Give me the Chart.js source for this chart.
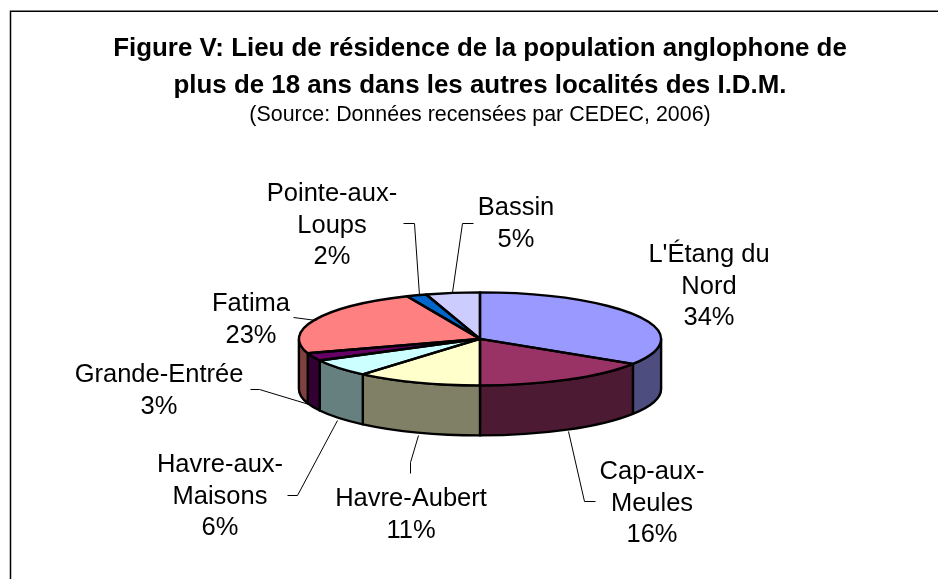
<!DOCTYPE html>
<html><head><meta charset="utf-8">
<style>html,body{margin:0;padding:0;background:#fff}#w{width:938px;height:579px;position:relative}canvas{display:block}</style>
<script src="https://cdn.jsdelivr.net/npm/chart.js@4"></script>
</head><body><div id="w"><canvas id="c" width="938" height="579"></canvas></div>
<script>
const categories = ["L'Étang du Nord","Cap-aux-Meules","Havre-Aubert","Havre-aux-Maisons","Grande-Entrée","Fatima","Pointe-aux-Loups","Bassin"];
const values = [34,16,11.2,6.1,2.7,23.4,1.8,4.8];
const topColors = ["#9999FF","#993366","#FFFFCC","#CCFFFF","#660066","#FF8080","#0066CC","#CCCCFF"];
const sideColors = ["#4D4D80","#4D1A33","#808066","#668080","#330033","#804040","#003366","#666680"];
const labelLines = [["L'Étang du","Nord"],["Cap-aux-","Meules"],["Havre-Aubert"],["Havre-aux-","Maisons"],["Grande-Entrée"],["Fatima"],["Pointe-aux-","Loups"],["Bassin"]];
const titleLines = ["Figure V: Lieu de résidence de la population anglophone de","plus de 18 ans dans les autres localités des I.D.M."];
const subtitleText = "(Source: Données recensées par CEDEC, 2006)";
const FONT = '"Liberation Sans", Arial, sans-serif';
// layout only
const labelAnchors = [[709,255],[652,472],[411,499],[220,465],[159,375],[251,304],[332,194],[516,208]];
const leaders = [null,
 [[568,431],[584,501],[595,501]],
 [[418,435],[410,462],[410,473]],
 [[337,420],[297,495],[287,495]],
 [[312,405],[259,389],[250,389]],
 [[316,320],[293,317]],
 [[419,295],[414,223],[403,223]],
 [[452,292],[462,223],[473,223]]];
const squash = 46.5/181, depth = 50, labelGap = 31.5, edge = 2.4;

const pie3d = {
 id:'pie3d',
 beforeDraw(chart){
  const c=chart.ctx; c.save(); c.strokeStyle='#000'; c.lineWidth=1.5;
  c.beginPath(); c.moveTo(10.5,579); c.lineTo(10.5,11.25); c.lineTo(938,11.25); c.stroke(); c.restore();
 },
 beforeDatasetsDraw(chart){
  const c=chart.ctx, arcs=chart.getDatasetMeta(0).data;
  c.save(); c.lineWidth=edge; c.strokeStyle='#000'; c.lineJoin='round';
  arcs.forEach((a,i)=>{
   const p=a.getProps(['x','y','startAngle','endAngle','outerRadius'],true);
   const lo=Math.max(p.startAngle,0), hi=Math.min(p.endAngle,Math.PI);
   if(lo>=hi) return;
   const rx=p.outerRadius, ry=rx*squash;
   c.beginPath();
   c.ellipse(p.x,p.y,rx,ry,0,lo,hi);
   c.ellipse(p.x,p.y+depth,rx,ry,0,hi,lo,true);
   c.closePath(); c.fillStyle=sideColors[i]; c.fill(); c.stroke();
  });
  c.restore();
  const p0=arcs[0];
  c.save(); c.translate(p0.x,p0.y); c.scale(1,squash); c.translate(-p0.x,-p0.y);
 },
 afterDatasetsDraw(chart){
  const c=chart.ctx, arcs=chart.getDatasetMeta(0).data;
  c.restore();
  c.save(); c.lineWidth=edge; c.strokeStyle='#000'; c.lineJoin='round';
  arcs.forEach(a=>{
   const p=a.getProps(['x','y','startAngle','endAngle','outerRadius'],true);
   c.beginPath(); c.moveTo(p.x,p.y);
   c.ellipse(p.x,p.y,p.outerRadius,p.outerRadius*squash,0,p.startAngle,p.endAngle);
   c.closePath(); c.stroke();
  });
  c.restore();
 },
 afterDraw(chart){
  const c=chart.ctx;
  c.save(); c.strokeStyle='#000'; c.lineWidth=1;
  leaders.forEach(l=>{ if(!l) return; c.beginPath(); l.forEach((q,j)=>j?c.lineTo(q[0]+.5,q[1]+.5):c.moveTo(q[0]+.5,q[1]+.5)); c.stroke(); });
  c.fillStyle='#000'; c.font='25.5px '+FONT; c.textAlign='center'; c.textBaseline='middle';
  categories.forEach((n,i)=>{
   const lines=labelLines[i].concat([Math.round(values[i])+'%']);
   lines.forEach((t,j)=>c.fillText(t,labelAnchors[i][0],labelAnchors[i][1]+j*labelGap));
  });
  c.restore();
 }
};

new Chart(document.getElementById('c'),{
 type:'pie',
 data:{labels:categories,datasets:[{data:values,backgroundColor:topColors,borderWidth:0}]},
 plugins:[pie3d],
 options:{
  responsive:false,animation:false,
  layout:{padding:{left:22,right:0,top:0,bottom:59}},
  plugins:{
   legend:{display:false},tooltip:{enabled:false},
   title:{display:true,text:titleLines,color:'#000',font:{family:FONT,size:25.9,weight:'bold',lineHeight:1.45},padding:{top:30,bottom:-3}},
   subtitle:{display:true,text:subtitleText,color:'#000',font:{family:FONT,size:21.4,weight:'normal',lineHeight:1.2},padding:{top:0,bottom:30}}
  }
 }
});
</script></body></html>
